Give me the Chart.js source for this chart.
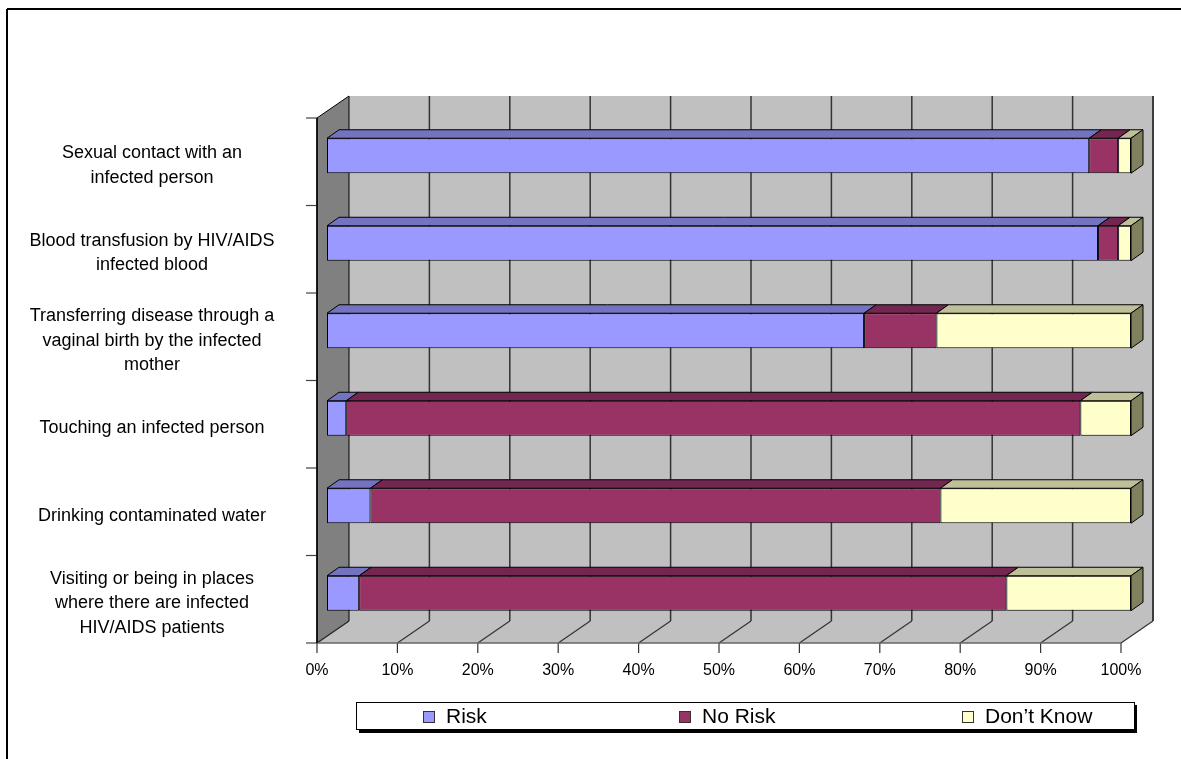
<!DOCTYPE html>
<html>
<head>
<meta charset="utf-8">
<script src="https://cdn.jsdelivr.net/npm/chart.js@4.4.1/dist/chart.umd.min.js"></script>
<style>
  body { margin: 0; background: #fff; }
  #wrap { width: 1181px; height: 759px; position: relative; }
</style>
</head>
<body>
<div id="wrap"><canvas id="riskChart" width="1181" height="759"></canvas></div>
<script>
// categories, top to bottom
const categories = [
  ["Sexual contact with an", "infected person"],
  ["Blood transfusion by HIV/AIDS", "infected blood"],
  ["Transferring disease through a", "vaginal birth by the infected", "mother"],
  ["Touching an infected person"],
  ["Drinking contaminated water"],
  ["Visiting or being in places", "where there are infected", "HIV/AIDS patients"]
];

const seriesNames = ["Risk", "No Risk", "Don\u2019t Know"];
const riskValues = [94.8, 95.9, 66.8, 2.4, 5.4, 4.0];
const noRiskValues = [3.6, 2.5, 9.0, 91.3, 70.9, 80.5];
const dontKnowValues = [1.6, 1.6, 24.2, 6.3, 23.7, 15.5];

const xTicks = [0, 10, 20, 30, 40, 50, 60, 70, 80, 90, 100];

// face colours: front, top, side
const frontColors = ["#9999FF", "#993366", "#FFFFCC"];
const topColors = ["#7373BF", "#732650", "#BFBF99"];
const sideColors = ["#5C5C99", "#5C1F3D", "#80805F"];

const FONT = "'Liberation Sans', Arial, sans-serif";

// 3d offsets relative to the bar front plane
const FRONT = { dx: -10, dy: 6 };   // axis / floor front edge
const BACK = { dx: 22, dy: -16 };   // back wall
const BAR_DEPTH = { dx: 12, dy: -8.5 };

function poly(ctx, pts, fill, stroke) {
  ctx.beginPath();
  ctx.moveTo(pts[0][0], pts[0][1]);
  for (let i = 1; i < pts.length; i++) ctx.lineTo(pts[i][0], pts[i][1]);
  ctx.closePath();
  if (fill) { ctx.fillStyle = fill; ctx.fill(); }
  if (stroke) { ctx.strokeStyle = stroke; ctx.lineWidth = 1; ctx.stroke(); }
}

function line(ctx, x1, y1, x2, y2, color, w) {
  ctx.beginPath();
  ctx.moveTo(x1, y1);
  ctx.lineTo(x2, y2);
  ctx.strokeStyle = color;
  ctx.lineWidth = w || 1;
  ctx.stroke();
}

// walls, floor, gridlines and axis labels
const wallsPlugin = {
  id: "walls",
  beforeDatasetsDraw(chart) {
    const ctx = chart.ctx;
    const xs = chart.scales.x;
    const ys = chart.scales.y;
    const area = chart.chartArea;
    const x0 = xs.getPixelForValue(0), x1 = xs.getPixelForValue(100);
    const fTop = area.top + FRONT.dy, fBot = area.bottom + FRONT.dy;
    const bTop = area.top + BACK.dy, bBot = area.bottom + BACK.dy;
    const fx0 = x0 + FRONT.dx, fx1 = x1 + FRONT.dx;
    const bx0 = x0 + BACK.dx, bx1 = x1 + BACK.dx;

    ctx.save();
    // outer frame
    line(ctx, 7, 9, 1181, 9, "#000", 2);
    line(ctx, 7, 9, 7, 759, "#000", 2);

    // back wall
    ctx.fillStyle = "#C0C0C0";
    ctx.fillRect(bx0, bTop, bx1 - bx0, bBot - bTop);
    // floor
    poly(ctx, [[fx0, fBot], [fx1, fBot], [bx1, bBot], [bx0, bBot]], "#C0C0C0", null);
    // side wall
    poly(ctx, [[fx0, fBot], [fx0, fTop], [bx0, bTop], [bx0, bBot]], "#808080", "#000");

    // gridlines on wall and floor
    xTicks.forEach(v => {
      const px = xs.getPixelForValue(v);
      if (v > 0) line(ctx, px + BACK.dx, bTop, px + BACK.dx, bBot, "#333", 1.5);
      line(ctx, px + FRONT.dx, fBot, px + BACK.dx, bBot, "#333", 1.2);
      // tick marks below the floor
      line(ctx, px + FRONT.dx, fBot, px + FRONT.dx, fBot + 10, "#333", 1.2);
    });
    line(ctx, bx1, bTop, bx1, bBot, "#333", 1.5);
    line(ctx, fx0, fBot, fx1, fBot, "#666", 1.5);

    // category ticks on the left edge
    const band = (fBot - fTop) / categories.length;
    for (let i = 0; i <= categories.length; i++) {
      const ty = fTop + band * i;
      line(ctx, fx0 - 11, ty, fx0, ty, "#444", 1.2);
    }
    line(ctx, fx0, fTop, fx0, fBot, "#000", 1.5);

    // x tick labels
    ctx.fillStyle = "#000";
    ctx.font = "16px " + FONT;
    ctx.textAlign = "center";
    ctx.textBaseline = "middle";
    xTicks.forEach(v => {
      ctx.fillText(v + "%", xs.getPixelForValue(v) + FRONT.dx, fBot + 28);
    });

    // category labels
    ctx.font = "18px " + FONT;
    const lh = 24.5;
    categories.forEach((lines, i) => {
      const cy = ys.getPixelForValue(i) + FRONT.dy + 4;
      const start = cy - (lines.length - 1) * lh / 2;
      lines.forEach((t, k) => ctx.fillText(t, 152, start + k * lh));
    });
    ctx.restore();
  },

  afterDatasetsDraw(chart) {
    const ctx = chart.ctx;
    ctx.save();
    const last = chart.data.datasets.length - 1;
    chart.data.datasets.forEach((ds, di) => {
      const meta = chart.getDatasetMeta(di);
      meta.data.forEach(bar => {
        const p = bar.getProps(["x", "y", "base", "height"], true);
        const top = p.y - p.height / 2, bot = p.y + p.height / 2;
        const l = Math.min(p.base, p.x), r = Math.max(p.base, p.x);
        if (r - l < 0.5) return;
        poly(ctx, [[l, top], [r, top], [r + BAR_DEPTH.dx, top + BAR_DEPTH.dy], [l + BAR_DEPTH.dx, top + BAR_DEPTH.dy]], topColors[di], "#000");
        if (di === last) {
          poly(ctx, [[r, top], [r + BAR_DEPTH.dx, top + BAR_DEPTH.dy], [r + BAR_DEPTH.dx, bot + BAR_DEPTH.dy], [r, bot]], sideColors[di], "#000");
        }
      });
    });
    ctx.restore();
  },

  afterDraw(chart) {
    // legend box with drop shadow
    const ctx = chart.ctx;
    ctx.save();
    const bx = 356, by = 702, bw = 778, bh = 27;
    ctx.fillStyle = "#000";
    ctx.fillRect(bx + 3, by + 3, bw, bh + 1);
    ctx.fillStyle = "#fff";
    ctx.fillRect(bx, by, bw, bh);
    ctx.strokeStyle = "#000";
    ctx.lineWidth = 1;
    ctx.strokeRect(bx + 0.5, by + 0.5, bw, bh);

    const markX = [423, 679, 962];
    ctx.font = "21px " + FONT;
    ctx.textAlign = "left";
    ctx.textBaseline = "middle";
    chart.data.datasets.forEach((ds, i) => {
      ctx.fillStyle = ds.backgroundColor;
      ctx.fillRect(markX[i], by + 9, 11, 11);
      ctx.strokeStyle = "#333";
      ctx.strokeRect(markX[i] + 0.5, by + 9.5, 11, 11);
      ctx.fillStyle = "#000";
      ctx.fillText(ds.label, markX[i] + 23, by + 15);
    });
    ctx.restore();
  }
};

const seriesValues = [riskValues, noRiskValues, dontKnowValues];

new Chart(document.querySelector("#riskChart"), {
  type: "bar",
  data: {
    labels: categories,
    datasets: seriesNames.map((name, i) => ({
      label: name,
      data: seriesValues[i],
      backgroundColor: frontColors[i],
      borderColor: "#000",
      borderWidth: 1,
      borderSkipped: false,
      categoryPercentage: 1,
      barPercentage: 0.4
    }))
  },
  options: {
    indexAxis: "y",
    responsive: false,
    animation: false,
    layout: { padding: { left: 327, right: 50, top: 112, bottom: 122 } },
    plugins: { legend: { display: false }, tooltip: { enabled: false } },
    scales: {
      x: { stacked: true, min: 0, max: 100, display: false },
      y: { stacked: true, display: false }
    }
  },
  plugins: [wallsPlugin]
});
</script>
</body>
</html>
